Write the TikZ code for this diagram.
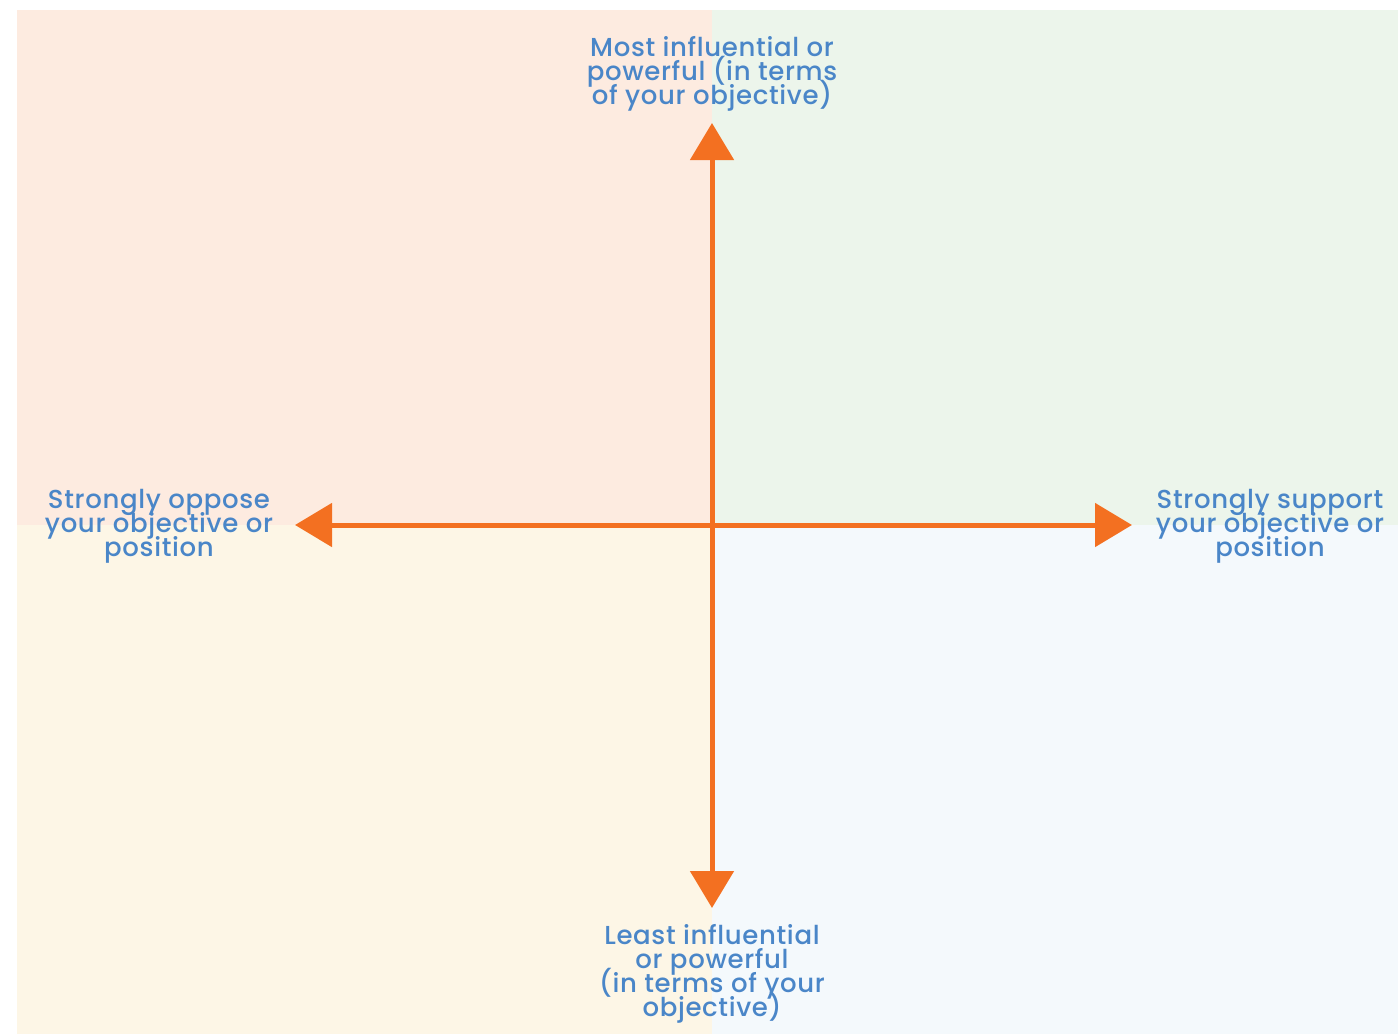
\documentclass[tikz,border=0pt]{standalone}
\usepackage{fontspec}
\setmainfont{Poppins}[UprightFont=* Medium, LetterSpace=2.5]
\usetikzlibrary{arrows.meta}
\definecolor{qpeach}{HTML}{FDEBE0}
\definecolor{qgreen}{HTML}{ECF5EB}
\definecolor{qcream}{HTML}{FDF6E6}
\definecolor{qblue}{HTML}{F4F9FC}
\definecolor{axisorange}{HTML}{F37021}
\definecolor{labelblue}{HTML}{4A86C8}
\newcommand{\axlabfont}{\fontsize{26pt}{24pt}\selectfont\setlength{\lineskiplimit}{-100pt}\setlength{\lineskip}{0pt}}
\tikzset{
  axisline/.style={draw=axisorange, line width=5pt,
    {Triangle[length=37pt,width=43pt]}-{Triangle[length=37pt,width=43pt]}},
  axislabel/.style={text=labelblue, align=center, inner sep=0pt,
    font=\axlabfont}
}
\begin{document}
\begin{tikzpicture}[x=1pt,y=-1pt]
\useasboundingbox (0,0) rectangle (1398,1034);
\fill[qpeach] (17,10) rectangle (712,525);
\fill[qgreen] (712,10) rectangle (1398,525);
\fill[qcream] (17,525) rectangle (712,1034);
\fill[qblue] (712,525) rectangle (1398,1034);
\coordinate (ytop) at (712,123);
\coordinate (ybot) at (712,908);
\coordinate (xleft) at (295,525);
\coordinate (xright) at (1132,525);
\draw[axisline] (ybot) -- (ytop);
\draw[axisline] (xleft) -- (xright);
\node[axislabel] (most) at (712,74) {Most influential or\\powerful (in terms\\of your objective)};
\node[axislabel] (least) at (712,974) {Least influential\\or powerful\\(in terms of your\\objective)};
\node[axislabel] (oppose) at (159,526) {Strongly oppose\\your objective or\\position};
\node[axislabel] (support) at (1270,526) {Strongly support\\your objective or\\position};
\end{tikzpicture}
\end{document}
